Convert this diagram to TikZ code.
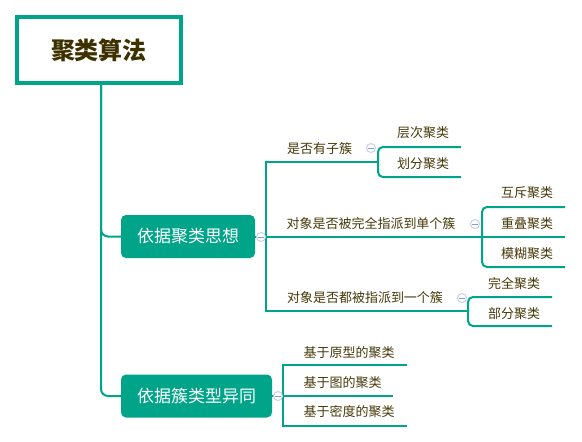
\documentclass[tikz,border=0pt]{standalone}
\usepackage{fontspec}
\newfontfamily\cjk{Noto Sans CJK SC}
\definecolor{teal}{HTML}{00A488}
\definecolor{ink}{HTML}{453808}
\definecolor{rootink}{HTML}{3E3100}
\definecolor{foldring}{HTML}{C6CFEC}
\definecolor{foldbar}{HTML}{8E9BC9}
\newcommand{\topicfont}{\cjk\fontsize{13}{13}\selectfont}

\begin{document}
\begin{tikzpicture}[x=1pt, y=-1pt,
    branch/.style={draw=teal, line width=2pt},
    elbow/.style={branch, rounded corners=5pt},
    topic/.style={inner sep=0pt, text=ink, font=\topicfont},
    mainbox/.style={fill=teal, rounded corners=5pt, text=white, inner sep=0pt,
      minimum height=43pt, font=\cjk\fontsize{17}{17}\selectfont},
    fold/.style={circle, draw=foldring, fill=white, line width=1pt, minimum size=9pt, inner sep=0pt,
      path picture={\draw[foldbar, line width=1pt]
        ([xshift=-2.6pt]path picture bounding box.center) -- ([xshift=2.6pt]path picture bounding box.center);}}]
      \useasboundingbox (0,0) rectangle (582,442);

      % root
      \node[draw=teal, line width=4pt, minimum width=164pt, minimum height=66pt, inner sep=0pt,
        text=rootink, font=\cjk\bfseries\fontsize{24}{24}\selectfont] (root) at (99,50) {聚类算法};

      % main topics
      \node[mainbox, minimum width=134pt] (idea) at (188,236.5) {依据聚类思想};
      \node[mainbox, minimum width=151pt] (type) at (196.5,396) {依据簇类型异同};
      \coordinate (trunk) at ([xshift=2pt]root.south);
      \draw[branch, rounded corners=7pt] (trunk) |- (idea.west);
      \draw[branch, rounded corners=7pt] (trunk) |- (type.west);

      % ends of the underlines
      \coordinate (fork) at (266,236.5);
      \coordinate (q1end) at (378,162);
      \coordinate (q2end) at (482,236.5);
      \coordinate (q3end) at (468,311);
      \coordinate (c11end) at (461,147);
      \coordinate (c12end) at (461,177);
      \coordinate (c21end) at (565,207);
      \coordinate (c22end) at (565,236.5);
      \coordinate (c23end) at (565,267);
      \coordinate (c31end) at (552,297);
      \coordinate (c32end) at (552,326);
      \coordinate (tfork) at (283,396);
      \coordinate (c41end) at (407,365);
      \coordinate (c42end) at (393,396);
      \coordinate (c43end) at (407,426);

      % branches of the first topic
      \draw[branch] (fork) |- (q1end);
      \draw[branch] (idea.east) -- (q2end) -- (c22end);
      \draw[branch] (fork) |- (q3end);
      \draw[elbow] (q1end) |- (c11end);
      \draw[elbow] (q1end) |- (c12end);
      \draw[elbow] (q2end) |- (c21end);
      \draw[elbow] (q2end) |- (c23end);
      \draw[elbow] (q3end) |- (c31end);
      \draw[elbow] (q3end) |- (c32end);

      % branches of the second topic
      \draw[branch] (type.east) -- (c42end);
      \draw[branch] (tfork) |- (c41end);
      \draw[branch] (tfork) |- (c43end);

      % texts
      \node[topic] (q1) at (319.5,149) {是否有子簇};
      \node[topic] (q2) at (371,224) {对象是否被完全指派到单个簇};
      \node[topic] (q3) at (365,298) {对象是否都被指派到一个簇};
      \node[topic] (c11) at (423,133) {层次聚类};
      \node[topic] (c12) at (423,164) {划分聚类};
      \node[topic] (c21) at (527,193) {互斥聚类};
      \node[topic] (c22) at (527,224) {重叠聚类};
      \node[topic] (c23) at (527,254) {模糊聚类};
      \node[topic] (c31) at (514,284) {完全聚类};
      \node[topic] (c32) at (514,314) {部分聚类};
      \node[topic] (c41) at (349,353) {基于原型的聚类};
      \node[topic] (c42) at (342.5,383) {基于图的聚类};
      \node[topic] (c43) at (349,412) {基于密度的聚类};

      % fold marks
      \node[fold] (f1) at (261,237) {};
      \node[fold] (f2) at (278,396) {};
      \node[fold] (f11) at (371,148) {};
      \node[fold] (f12) at (475,224) {};
      \node[fold] (f13) at (462,298) {};
    \end{tikzpicture}
\end{document}
